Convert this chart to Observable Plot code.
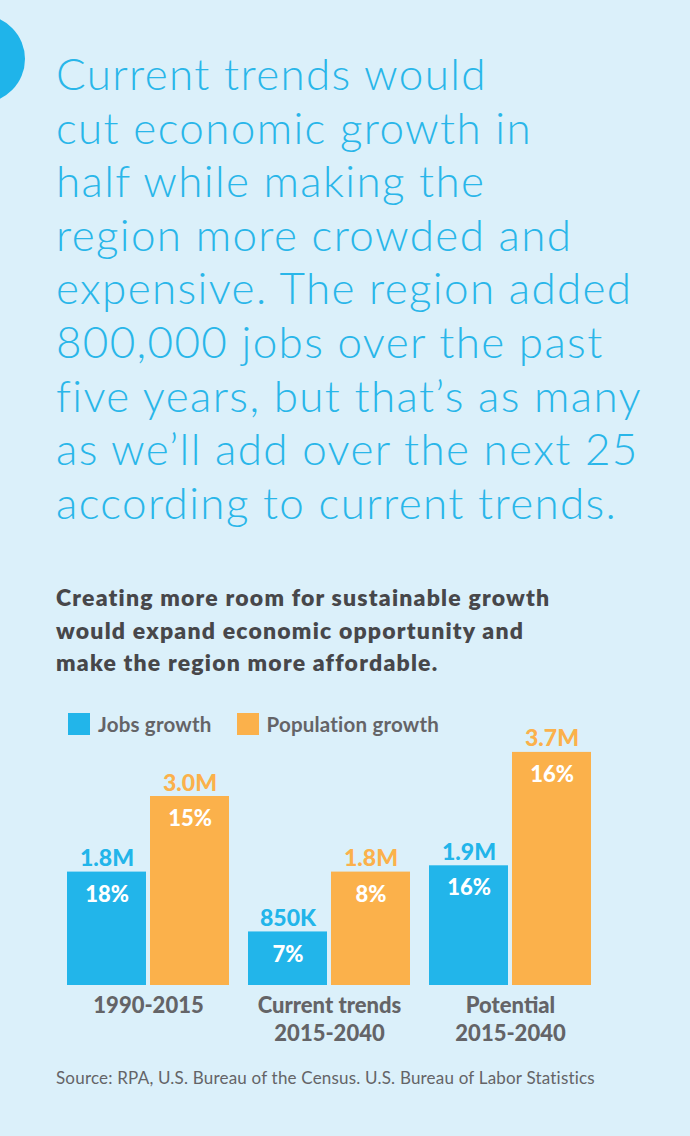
<!DOCTYPE html>
<html>
<head>
<meta charset="utf-8">
<script src="https://cdn.jsdelivr.net/npm/d3@7"></script>
<script src="https://cdn.jsdelivr.net/npm/@observablehq/plot@0.6"></script>
<style>
  html, body { margin: 0; padding: 0; }
  body { width: 690px; height: 1136px; background: #dbf0fa; position: relative; overflow: hidden; font-family: Lato, "Open Sans", sans-serif; }
  #circle { position: absolute; left: -63px; top: 15px; width: 88px; height: 88px; border-radius: 50%; background: #1fb4ea; }
  #headline { position: absolute; left: 56px; top: 47px; font-size: 44px; line-height: 53.6px; font-weight: 300; letter-spacing: 1.35px; color: #29b6e9; white-space: pre; margin: 0; }
  #subtitle { position: absolute; left: 56px; top: 581px; font-size: 23px; line-height: 32.5px; font-weight: 800; letter-spacing: 1.2px; color: #47474a; white-space: pre; margin: 0; }
  #legend { position: absolute; left: 68px; top: 713px; height: 22px; display: flex; align-items: center; z-index: 2; }
  .item { display: flex; align-items: center; margin-right: 25px; font-size: 20.5px; line-height: 22px; font-weight: 700; letter-spacing: 0.2px; color: #646467; }
  .sw { width: 22px; height: 22px; margin-right: 8px; }
  #chart { position: absolute; left: 0; top: 700px; }
  #source { position: absolute; left: 56px; top: 1068px; font-size: 17px; line-height: 20px; letter-spacing: 0.2px; color: #646467; margin: 0; }
</style>
</head>
<body>
<div id="circle"></div>
<h1 id="headline"></h1>
<h2 id="subtitle"></h2>
<div id="legend"></div>
<div id="chart"></div>
<p id="source"></p>
<script>
// ---- text ----
const headlineLines = [
  "Current trends would",
  "cut economic growth in",
  "half while making the",
  "region more crowded and",
  "expensive. The region added",
  "800,000 jobs over the past",
  "five years, but that’s as many",
  "as we’ll add over the next 25",
  "according to current trends."
];
const subtitleLines = [
  "Creating more room for sustainable growth",
  "would expand economic opportunity and",
  "make the region more affordable."
];
const sourceText = "Source: RPA, U.S. Bureau of the Census. U.S. Bureau of Labor Statistics";

// ---- data ----
const groups = ["1990-2015", "Current trends\n2015-2040", "Potential\n2015-2040"];
const series = ["Jobs growth", "Population growth"];
const seriesColors = ["#22b5ea", "#fbb14b"];
const jobsValues = [1.8, 0.85, 1.9];        // millions
const popValues = [3.0, 1.8, 3.7];          // millions
const jobsLabels = ["1.8M", "850K", "1.9M"];
const popLabels = ["3.0M", "1.8M", "3.7M"];
const jobsPct = ["18%", "7%", "16%"];
const popPct = ["15%", "8%", "16%"];

document.getElementById("headline").textContent = headlineLines.join("\n");
document.getElementById("subtitle").textContent = subtitleLines.join("\n");
document.getElementById("source").textContent = sourceText;

const legend = document.getElementById("legend");
series.forEach((s, i) => {
  const item = document.createElement("div");
  item.className = "item";
  const sw = document.createElement("div");
  sw.className = "sw";
  sw.style.background = seriesColors[i];
  item.appendChild(sw);
  item.appendChild(document.createTextNode(s));
  legend.appendChild(item);
});

const rows = [];
groups.forEach((g, i) => {
  rows.push({group: g, series: series[0], value: jobsValues[i], label: jobsLabels[i], pct: jobsPct[i]});
  rows.push({group: g, series: series[1], value: popValues[i], label: popLabels[i], pct: popPct[i]});
});
const groupRows = groups.map(g => ({group: g}));

const chart = Plot.plot({
  width: 690,
  height: 350,
  marginLeft: 65,
  marginRight: 98,
  marginTop: 33,
  marginBottom: 65,
  style: {background: "transparent", fontFamily: "Lato, 'Open Sans', sans-serif"},
  fx: {domain: groups, paddingInner: 0.096, paddingOuter: 0, axis: null, label: null},
  x: {domain: series, paddingInner: 0.0476, paddingOuter: 0, axis: null},
  y: {domain: [0, 4], axis: null},
  color: {domain: series, range: seriesColors},
  marks: [
    Plot.barY(rows, {fx: "group", x: "series", y: "value", fill: "series"}),
    Plot.text(rows, {fx: "group", x: "series", y: "value", text: "label", fill: "series",
      lineAnchor: "bottom", dy: -6, fontSize: 23, fontWeight: 900, style: "letter-spacing: 0.8px"}),
    Plot.text(rows, {fx: "group", x: "series", y: "value", text: "pct", fill: "white",
      lineAnchor: "top", dy: 14, fontSize: 22, fontWeight: 900, style: "letter-spacing: 0.5px"}),
    Plot.text(groupRows, {fx: "group", text: "group", frameAnchor: "bottom", lineAnchor: "top",
      dy: 8, lineHeight: 1.27, fontSize: 22, fontWeight: 900, fill: "#646467", style: "letter-spacing: 0.4px"})
  ]
});
document.getElementById("chart").appendChild(chart);
</script>
</body>
</html>
